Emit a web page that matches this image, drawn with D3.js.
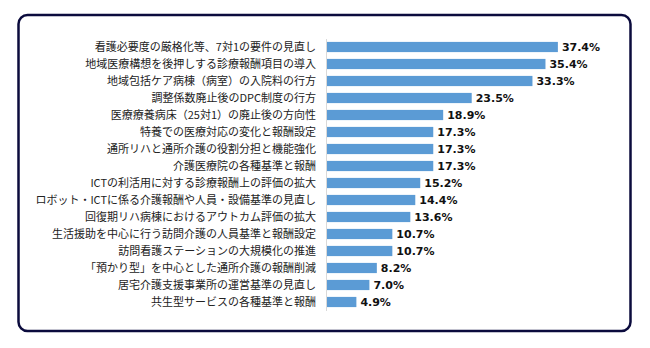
<!DOCTYPE html>
<html>
<head>
<meta charset="utf-8">
<script src="https://cdn.jsdelivr.net/npm/d3@7"></script>
<style>
  body { margin: 0; background: #fff; }
  svg { display: block; }
</style>
</head>
<body>
<svg width="650" height="348"></svg>
<script>
var categories = [
  '看護必要度の厳格化等、7対1の要件の見直し',
  '地域医療構想を後押しする診療報酬項目の導入',
  '地域包括ケア病棟（病室）の入院料の行方',
  '調整係数廃止後のDPC制度の行方',
  '医療療養病床（25対1）の廃止後の方向性',
  '特養での医療対応の変化と報酬設定',
  '通所リハと通所介護の役割分担と機能強化',
  '介護医療院の各種基準と報酬',
  'ICTの利活用に対する診療報酬上の評価の拡大',
  'ロボット・ICTに係る介護報酬や人員・設備基準の見直し',
  '回復期リハ病棟におけるアウトカム評価の拡大',
  '生活援助を中心に行う訪問介護の人員基準と報酬設定',
  '訪問看護ステーションの大規模化の推進',
  '「預かり型」を中心とした通所介護の報酬削減',
  '居宅介護支援事業所の運営基準の見直し',
  '共生型サービスの各種基準と報酬'
]
var values = [37.4, 35.4, 33.3, 23.5, 18.9, 17.3, 17.3, 17.3, 15.2, 14.4, 13.6, 10.7, 10.7, 8.2, 7.0, 4.9]

var svg = d3.select('svg')

// 外枠
svg.append('rect')
  .attr('x', 18.5).attr('y', 15)
  .attr('width', 612).attr('height', 316)
  .attr('rx', 9).attr('ry', 9)
  .attr('fill', '#fff')
  .attr('stroke', '#0b0b3d')
  .attr('stroke-width', 2.5)

var x = d3.scaleLinear()
  .domain([0, 40])
  .range([326, 326 + 6.2 * 40])

var y = d3.scaleBand()
  .domain(categories)
  .range([38.5, 310.5])
  .paddingInner(0.4)
  .paddingOuter(0.2)

svg.selectAll('rect.bar')
  .data(values)
  .enter()
  .append('rect')
  .attr('class', 'bar')
  .attr('x', x(0))
  .attr('y', function(d, i) { return y(categories[i]) })
  .attr('width', function(d) { return x(d) - x(0) })
  .attr('height', y.bandwidth())
  .attr('fill', '#5b9bd5')

// 縦軸
var yAxis = d3.axisLeft(y).tickSize(0).tickPadding(10)
var g = svg.append('g')
  .attr('transform', 'translate(' + x(0) + ',0)')
  .call(yAxis)
g.select('.domain').attr('stroke', '#d9d9d9').attr('stroke-width', 1)
g.selectAll('text')
  .attr('font-family', '"Noto Sans CJK JP", sans-serif')
  .attr('font-size', 11)
  .attr('fill', '#222')

svg.selectAll('text.val')
  .data(values)
  .enter()
  .append('text')
  .attr('class', 'val')
  .attr('x', function(d) { return x(d) + 4 })
  .attr('y', function(d, i) { return y(categories[i]) + y.bandwidth() / 2 })
  .attr('dy', '0.36em')
  .attr('font-family', '"DejaVu Sans", Verdana, sans-serif')
  .attr('font-weight', 'bold')
  .attr('font-size', 11)
  .attr('fill', '#111')
  .text(function(d) { return d.toFixed(1) + '%' })
</script>
</body>
</html>
